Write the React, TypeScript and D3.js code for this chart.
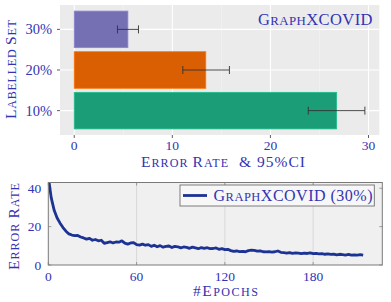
import React from "react";
import * as d3 from "d3";

// top chart: error rate per labelled-set size
const categories = ["30%", "20%", "10%"];
const errorRate = [5.47, 13.41, 26.75];
const ciLow = [4.41, 11.07, 23.86];
const ciHigh = [6.55, 15.82, 29.63];
const barColors = ["#7570b3", "#d95f02", "#1b9e77"];
const topTicks = [0, 10, 20, 30];
const topMinor = [5, 15, 25];

// bottom chart: error rate over training (every 2nd epoch)
const epochStep = 2;
const lossCurve = [
  46, 35, 28.5, 24.5, 21.8, 19.5, 17.6, 16.2, 15.6, 15.3,
  15.4, 14.6, 14.1, 13.5, 13.9, 12.9, 13.3, 12.6, 12.9, 11.3,
  11.7, 12.1, 11.5, 12.0, 11.9, 12.6, 11.4, 10.9, 11.5, 11.7,
  10.6, 10.4, 10.9, 10.3, 10.6, 9.7, 10.3, 9.5, 10.1, 9.3,
  9.7, 9.9, 9.1, 9.7, 9.5, 8.9, 9.4, 9.2, 8.7, 9.3,
  8.9, 8.5, 9.1, 8.7, 9.0, 8.5, 8.6, 8.9, 8.2, 8.5,
  8.0, 8.2, 7.5, 7.1, 7.3, 7.0, 7.1, 6.9, 7.5, 7.7,
  7.6, 7.2, 7.4, 6.9, 6.8, 7.0, 6.7, 6.9, 7.3, 6.6,
  6.4, 6.2, 6.5, 6.1, 6.3, 6.2, 5.9, 6.2, 6.0, 6.3,
  5.9, 6.1, 5.8, 5.9, 5.6, 5.8, 5.5, 5.7, 5.3, 5.6,
  5.4, 5.2, 5.5, 5.1, 5.3, 5.2, 5.4, 5.2,
];
const epochTicks = [0, 60, 120, 180];
const rateTicks = [0, 20, 40];

const blue = "#3333b3";
const font = "'Liberation Serif', serif";

function SmallCaps({ parts, size }: { parts: [string, boolean][]; size: number }) {
  return (
    <>
      {parts.map(([t, big], i) => (
        <tspan key={i} fontSize={big ? size : size * 0.78}>
          {big ? t : t.toUpperCase()}
        </tspan>
      ))}
    </>
  );
}

function App() {
  // --- top chart
  const tp = { left: 60, right: 379.3, top: 5, bottom: 135 };
  const x = d3.scaleLinear().domain([-1.45, 31.1]).range([tp.left, tp.right]);
  const y = d3
    .scaleBand()
    .domain(categories)
    .range([tp.top, tp.bottom])
    .paddingInner(0.1)
    .paddingOuter(0.15);

  // --- bottom chart
  const bp = { left: 48.3, right: 382.3, top: 182.5, bottom: 265 };
  const ex = d3.scaleLinear().domain([0, 227]).range([bp.left, bp.right]);
  const ey = d3.scaleLinear().domain([0, 43]).range([bp.bottom, bp.top]);
  const line = d3
    .line<number>()
    .x((_, i) => ex(i * epochStep))
    .y((d) => ey(d));

  return (
    <svg width={391} height={302} style={{ position: "absolute", left: 0, top: 0 }} fontFamily={font}>
      <defs>
        <clipPath id="bclip">
          <rect x={bp.left} y={bp.top} width={bp.right - bp.left} height={bp.bottom - bp.top} />
        </clipPath>
      </defs>

      {/* top panel */}
      <rect x={tp.left} y={tp.top} width={tp.right - tp.left} height={tp.bottom - tp.top} fill="#ebebeb" />
      {topMinor.map((t) => (
        <line key={"m" + t} x1={x(t)} x2={x(t)} y1={tp.top} y2={tp.bottom} stroke="#f5f5f5" strokeWidth={0.6} />
      ))}
      {topTicks.map((t) => (
        <line key={"g" + t} x1={x(t)} x2={x(t)} y1={tp.top} y2={tp.bottom} stroke="#fff" strokeWidth={1.1} />
      ))}
      {categories.map((c) => (
        <line key={"h" + c} x1={tp.left} x2={tp.right} y1={y(c)! + y.bandwidth() / 2} y2={y(c)! + y.bandwidth() / 2} stroke="#fff" strokeWidth={1.1} />
      ))}
      {categories.map((c, i) => (
        <rect
          key={"b" + c}
          x={x(0)}
          y={y(c)}
          width={x(errorRate[i]) - x(0)}
          height={y.bandwidth()}
          fill={barColors[i]}
          stroke={d3.color(barColors[i])!.brighter(0.5).formatHex()}
          strokeWidth={0.8}
        />
      ))}
      {categories.map((c, i) => {
        const cy = y(c)! + y.bandwidth() / 2;
        return (
          <g key={"e" + c} stroke="#333" strokeWidth={0.9}>
            <line x1={x(ciLow[i])} x2={x(ciHigh[i])} y1={cy} y2={cy} />
            <line x1={x(ciLow[i])} x2={x(ciLow[i])} y1={cy - 4} y2={cy + 4} />
            <line x1={x(ciHigh[i])} x2={x(ciHigh[i])} y1={cy - 4} y2={cy + 4} />
          </g>
        );
      })}
      {topTicks.map((t) => (
        <g key={"t" + t}>
          <line x1={x(t)} x2={x(t)} y1={tp.bottom} y2={tp.bottom + 3} stroke="#333" strokeWidth={0.8} />
          <text x={x(t)} y={tp.bottom + 15} textAnchor="middle" fontSize={13.5} fill={blue}>
            {t}
          </text>
        </g>
      ))}
      {categories.map((c) => (
        <g key={"yl" + c}>
          <line x1={tp.left - 3} x2={tp.left} y1={y(c)! + y.bandwidth() / 2} y2={y(c)! + y.bandwidth() / 2} stroke="#333" strokeWidth={0.8} />
          <text x={tp.left - 8} y={y(c)! + y.bandwidth() / 2 + 5} textAnchor="end" fontSize={14.5} fill={blue}>
            {c}
          </text>
        </g>
      ))}
      <text x={258} y={24.5} fontSize={16.5} fill={blue} textLength={114.5} lengthAdjust="spacing">
        <SmallCaps parts={[["G", true], ["raph", false], ["XCOVID", true]]} size={16.5} />
      </text>
      <text x={141} y={166.5} fontSize={15.5} fill={blue} xmlSpace="preserve" textLength={164} lengthAdjust="spacing">
        <SmallCaps parts={[["E", true], ["rror ", false], ["R", true], ["ate", false], ["  & 95%CI", true]]} size={15.5} />
      </text>
      <text transform="translate(16,119) rotate(-90)" fontSize={15.5} fill={blue} textLength={99} lengthAdjust="spacing">
        <SmallCaps parts={[["L", true], ["abelled ", false], ["S", true], ["et", false]]} size={15.5} />
      </text>

      {/* bottom panel */}
      <rect x={bp.left} y={bp.top} width={bp.right - bp.left} height={bp.bottom - bp.top} fill="#f0f0f0" />
      {epochTicks.slice(1).map((t) => (
        <line key={"vg" + t} x1={ex(t)} x2={ex(t)} y1={bp.top} y2={bp.bottom} stroke="#cfcfcf" strokeWidth={0.7} />
      ))}
      {epochTicks.map((t) => (
        <g key={"et" + t}>
          <line x1={ex(t)} x2={ex(t)} y1={bp.bottom} y2={bp.bottom - 3} stroke="#888" strokeWidth={0.8} />
          <line x1={ex(t)} x2={ex(t)} y1={bp.top} y2={bp.top + 3} stroke="#888" strokeWidth={0.8} />
          <text x={ex(t)} y={bp.bottom + 16} textAnchor="middle" fontSize={13.5} fill={blue}>
            {t}
          </text>
        </g>
      ))}
      {rateTicks.map((t) => (
        <g key={"rt" + t}>
          <line x1={bp.left} x2={bp.left + 3} y1={ey(t)} y2={ey(t)} stroke="#888" strokeWidth={0.8} />
          <line x1={bp.right} x2={bp.right - 3} y1={ey(t)} y2={ey(t)} stroke="#888" strokeWidth={0.8} />
          <text x={bp.left - 7} y={ey(t) + 4.5} textAnchor="end" fontSize={13.5} fill={blue}>
            {t}
          </text>
        </g>
      ))}
      <path
        d={line(lossCurve)!}
        fill="none"
        stroke="#1c3393"
        strokeWidth={2.8}
        strokeLinejoin="round"
        clipPath="url(#bclip)"
      />
      <rect x={bp.left} y={bp.top} width={bp.right - bp.left} height={bp.bottom - bp.top} fill="none" stroke="#7a7a7a" strokeWidth={1} />

      {/* legend */}
      <rect x={180} y={185} width={194.3} height={21} fill="#f7f7f7" stroke="#707070" strokeWidth={0.9} />
      <line x1={183} x2={207} y1={195.5} y2={195.5} stroke="#1c3393" strokeWidth={2.8} />
      <text x={213.5} y={200.5} fontSize={16} fill={blue} textLength={159} lengthAdjust="spacing">
        <SmallCaps parts={[["G", true], ["raph", false], ["XCOVID (30%)", true]]} size={16} />
      </text>

      <text x={193} y={295.5} fontSize={15.5} fill={blue} textLength={65} lengthAdjust="spacing">
        <SmallCaps parts={[["#E", true], ["pochs", false]]} size={15.5} />
      </text>
      <text transform="translate(19,270) rotate(-90)" fontSize={15.5} fill={blue} textLength={87} lengthAdjust="spacing">
        <SmallCaps parts={[["E", true], ["rror ", false], ["R", true], ["ate", false]]} size={15.5} />
      </text>
    </svg>
  );
}

export default App;
